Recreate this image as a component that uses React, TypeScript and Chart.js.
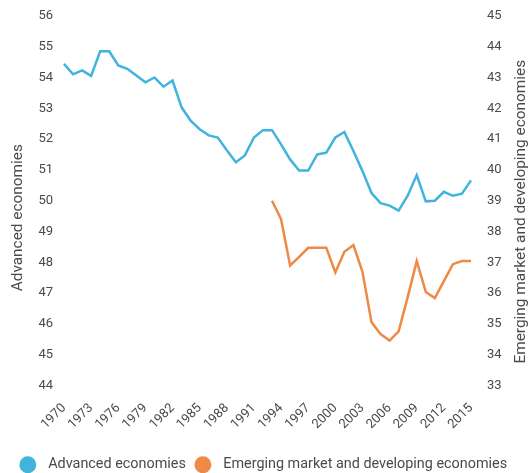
import React, { useEffect, useRef } from 'react';
import { Chart, registerables } from 'chart.js';

Chart.register(...registerables);

const years = [
  '1970', '1971', '1972', '1973', '1974', '1975', '1976', '1977', '1978', '1979',
  '1980', '1981', '1982', '1983', '1984', '1985', '1986', '1987', '1988', '1989',
  '1990', '1991', '1992', '1993', '1994', '1995', '1996', '1997', '1998', '1999',
  '2000', '2001', '2002', '2003', '2004', '2005', '2006', '2007', '2008', '2009',
  '2010', '2011', '2012', '2013', '2014', '2015',
];

const advanced = [
  54.44, 54.1, 54.23, 54.05, 54.85, 54.85, 54.39, 54.28, 54.06, 53.84,
  54.0, 53.7, 53.9, 53.03, 52.6, 52.32, 52.12, 52.05, 51.64, 51.25,
  51.47, 52.05, 52.29, 52.29, 51.83, 51.34, 50.98, 50.98, 51.5, 51.56,
  52.05, 52.23, 51.61, 50.96, 50.25, 49.92, 49.84, 49.68, 50.16, 50.83,
  49.98, 50.0, 50.29, 50.16, 50.23, 50.66,
];

const emerging = [
  null, null, null, null, null, null, null, null, null, null,
  null, null, null, null, null, null, null, null, null, null,
  null, null, null, 39.0, 38.4, 36.9, 37.18, 37.47, 37.47, 37.47,
  36.67, 37.34, 37.56, 36.69, 35.06, 34.67, 34.46, 34.76, 35.87, 37.04,
  36.04, 35.84, 36.39, 36.94, 37.04, 37.04,
];

const leftTitle = 'Advanced economies';
const rightTitle = 'Emerging market and developing economies';
const blue = '#41b4de';
const orange = '#ee8a45';
const textColor = '#4a4a4a';
const fontFamily = 'Roboto, "Noto Sans", sans-serif';

function drawVerticalTitle(ctx: any, text: string, x: number, y: number) {
  ctx.save();
  ctx.font = `15.4px ${fontFamily}`;
  ctx.fillStyle = textColor;
  ctx.textAlign = 'center';
  ctx.textBaseline = 'middle';
  ctx.translate(x, y);
  ctx.rotate(-Math.PI / 2);
  ctx.fillText(text, 0, 0);
  ctx.restore();
}

const axisTitlePlugin = {
  id: 'axisTitles',
  afterLayout(chart: any) {
    const lg = chart.legend;
    if (lg) {
      lg.top += 9;
      lg.bottom += 9;
      lg.left -= 5;
      lg.right -= 5;
    }
  },
  afterDraw(chart: any) {
    const yl = chart.scales.y;
    const yr = chart.scales.y1;
    const mid = (chart.chartArea.top + chart.chartArea.bottom) / 2;
    if (yl) drawVerticalTitle(chart.ctx, leftTitle, yl.left + 8, mid + 17);
    if (yr) drawVerticalTitle(chart.ctx, rightTitle, yr.right - 8, mid + 11);
  },
};

export default function App() {
  const ref = useRef<HTMLCanvasElement>(null);
  useEffect(() => {
    document.body.style.margin = '0';
    document.body.style.overflow = 'hidden';
    const chart = new Chart(ref.current!, {
      type: 'line',
      data: {
        labels: years,
        datasets: [
          {
            label: 'Advanced economies',
            data: advanced,
            borderColor: blue,
            backgroundColor: blue,
            borderWidth: 2.5,
            pointRadius: 0,
            tension: 0,
            yAxisID: 'y',
          },
          {
            label: 'Emerging market and developing economies',
            data: emerging,
            borderColor: orange,
            backgroundColor: orange,
            borderWidth: 2.5,
            pointRadius: 0,
            tension: 0,
            yAxisID: 'y1',
          },
        ],
      },
      options: {
        animation: false,
        responsive: true,
        maintainAspectRatio: false,
        layout: { padding: { top: 3, left: 10, right: 0, bottom: 0 } },
        plugins: {
          legend: {
            position: 'bottom',
            labels: {
              usePointStyle: true,
              pointStyle: 'circle',
              boxWidth: 12,
              boxHeight: 12,
              color: textColor,
              font: { family: fontFamily, size: 14.4 },
              padding: 11,
              generateLabels: (c: any) =>
                Chart.defaults.plugins.legend.labels
                  .generateLabels(c)
                  .map((l: any) => ({ ...l, text: '  ' + l.text, lineWidth: 0 })),
            },
          },
          tooltip: { enabled: false },
        },
        scales: {
          x: {
            grid: { display: false, drawTicks: false },
            border: { display: false },
            afterFit: (s: any) => {
              s.height = 52;
            },
            ticks: {
              autoSkip: false,
              maxRotation: 45,
              minRotation: 45,
              color: textColor,
              font: { family: fontFamily, size: 13 },
              padding: 15,
              callback: (_v: any, i: number) => (i % 3 === 0 ? years[i] : ''),
            },
          },
          y: {
            position: 'left',
            min: 44,
            max: 56,
            grid: { display: false, drawTicks: false },
            border: { display: false },
            afterFit: (s: any) => {
              s.width = 54;
            },
            ticks: {
              stepSize: 1,
              color: textColor,
              font: { family: fontFamily, size: 13 },
              padding: 11,
            },
          },
          y1: {
            position: 'right',
            min: 33,
            max: 45,
            grid: { display: false, drawTicks: false },
            border: { display: false },
            afterFit: (s: any) => {
              s.width = 58;
            },
            ticks: {
              stepSize: 1,
              color: textColor,
              font: { family: fontFamily, size: 13 },
              padding: 16,
            },
          },
        },
      },
      plugins: [axisTitlePlugin],
    });
    return () => chart.destroy();
  }, []);
  return (
    <div style={{ position: 'relative', width: 529, height: 481, marginTop: -8 }}>
      <canvas ref={ref} />
    </div>
  );
}
